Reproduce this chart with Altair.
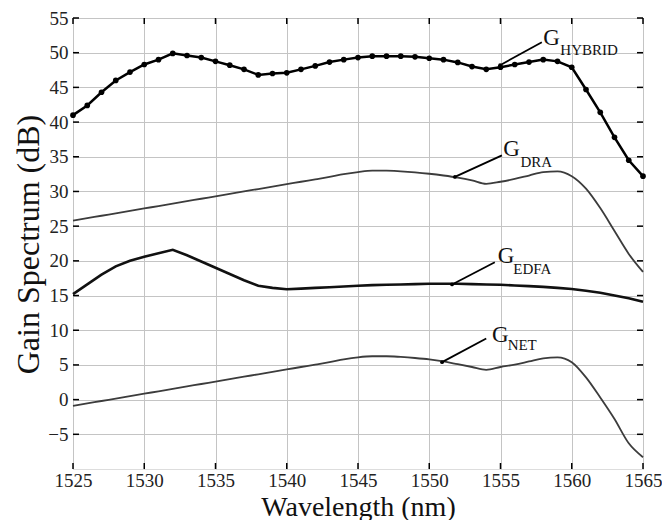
import altair as alt
import pandas as pd

wavelength = list(range(1525, 1566))

g_hybrid = [41.0, 42.4, 44.3, 46.0, 47.2, 48.3, 49.0, 49.9, 49.6, 49.3,
            48.75, 48.2, 47.6, 46.8, 47.0, 47.1, 47.6, 48.1, 48.65, 49.0,
            49.3, 49.5, 49.5, 49.5, 49.4, 49.2, 49.0, 48.6, 48.0, 47.6,
            47.9, 48.3, 48.65, 49.0, 48.75, 47.9, 44.7, 41.4, 37.8, 34.5, 32.2]

g_dra = [25.8, 26.15, 26.5, 26.85, 27.2, 27.55, 27.9, 28.25, 28.6, 28.95,
         29.3, 29.65, 30.0, 30.35, 30.7, 31.05, 31.4, 31.75, 32.1, 32.5,
         32.8, 33.0, 33.0, 32.9, 32.75, 32.55, 32.3, 32.0, 31.6, 31.1,
         31.4, 31.8, 32.3, 32.8, 32.9, 32.2, 30.4, 27.6, 24.3, 21.0, 18.4]

g_edfa = [15.2, 16.6, 18.0, 19.2, 20.0, 20.6, 21.1, 21.6, 20.8, 19.9,
          19.0, 18.1, 17.2, 16.4, 16.1, 15.9, 16.0, 16.1, 16.2, 16.3,
          16.4, 16.5, 16.55, 16.6, 16.65, 16.7, 16.7, 16.7, 16.65, 16.6,
          16.55, 16.45, 16.35, 16.25, 16.1, 15.95, 15.7, 15.4, 15.0, 14.6, 14.1]

g_net = [-0.9, -0.55, -0.2, 0.15, 0.5, 0.85, 1.2, 1.55, 1.9, 2.25,
         2.6, 2.95, 3.3, 3.65, 4.0, 4.35, 4.7, 5.05, 5.4, 5.8,
         6.1, 6.25, 6.25, 6.15, 6.0, 5.8, 5.5, 5.1, 4.7, 4.3,
         4.7, 5.05, 5.5, 5.95, 6.1, 5.4, 3.2, 0.3, -2.8, -6.3, -8.3]

x_ticks = [1525, 1530, 1535, 1540, 1545, 1550, 1555, 1560, 1565]
y_ticks = [-5, 0, 5, 10, 15, 20, 25, 30, 35, 40, 45, 50, 55]

# annotation labels
ann_sub = ["HYBRID", "DRA", "EDFA", "NET"]
ann_g_x = [1558.0, 1555.2, 1554.8, 1554.4]
ann_g_y = [52.1, 36.1, 20.7, 9.3]
ann_s_x = [1559.2, 1556.4, 1555.9, 1555.5]
ann_s_y = [50.4, 34.2, 18.8, 7.9]
arr_x1 = [1554.97, 1551.8, 1551.6, 1550.9]
arr_y1 = [48.2, 32.1, 16.6, 5.4]
arr_x2 = [1557.9, 1555.1, 1554.6, 1554.0]
arr_y2 = [51.5, 35.2, 19.8, 8.8]

W, H = 570, 451
FONT = "Liberation Serif"

xs = alt.Scale(domain=[1525, 1565], nice=False, zero=False)
ys = alt.Scale(domain=[-10, 55], nice=False, zero=False)

df = pd.DataFrame({"wl": wavelength, "hyb": g_hybrid, "dra": g_dra,
                   "edfa": g_edfa, "net": g_net})

x_axis = alt.Axis(values=x_ticks, title="Wavelength (nm)", grid=True, ticks=False,
                  domain=False, labelFontSize=19, titleFontSize=28, labelPadding=2,
                  format="d", labelFont=FONT, titleFont=FONT,
                  labelColor="#222", titleColor="#111", titleFontWeight="normal",
                  gridColor="#c4c4c4", gridWidth=1, labelFlush=False, labelOverlap=False,
                  titleY=46, titleBaseline="alphabetic")
y_axis = alt.Axis(values=y_ticks, title="Gain Spectrum (dB)", grid=True, ticks=False,
                  domain=False, labelFontSize=19, titleFontSize=32, labelPadding=5,
                  labelFont=FONT, titleFont=FONT, labelColor="#222", titleColor="#111",
                  titleFontWeight="normal", gridColor="#c4c4c4", gridWidth=1,
                  titleX=-35, titleY=226, titleBaseline="alphabetic", titleAlign="center",
                  labelFlush=False, labelOverlap=False)


def X(field):
    return alt.X(field, scale=xs, axis=x_axis)


def Y(field):
    return alt.Y(field, scale=ys, axis=y_axis)


base = alt.Chart(df)

hyb_line = base.mark_line(color="black", strokeWidth=2.5).encode(x=X("wl:Q"), y=Y("hyb:Q"))
hyb_pts = base.mark_circle(color="black", size=32, opacity=1).encode(x=X("wl:Q"), y=Y("hyb:Q"))
dra_line = base.mark_line(color="#3c3c3c", strokeWidth=1.8, interpolate="monotone").encode(
    x=X("wl:Q"), y=Y("dra:Q"))
edfa_line = base.mark_line(color="#111", strokeWidth=2.6).encode(
    x=X("wl:Q"), y=Y("edfa:Q"))
net_line = base.mark_line(color="#3c3c3c", strokeWidth=1.8, interpolate="monotone").encode(
    x=X("wl:Q"), y=Y("net:Q"))

ann = pd.DataFrame({"sub": ann_sub, "gx": ann_g_x, "gy": ann_g_y, "sx": ann_s_x,
                    "sy": ann_s_y, "x1": arr_x1, "y1": arr_y1, "x2": arr_x2, "y2": arr_y2,
                    "g": ["G"] * 4})
ann_base = alt.Chart(ann)
arrows = ann_base.mark_rule(color="black", strokeWidth=1.8).encode(
    x=X("x1:Q"), y=Y("y1:Q"), x2="x2:Q", y2="y2:Q")
arrow_tips = ann_base.mark_circle(color="black", size=14, opacity=1).encode(
    x=X("x1:Q"), y=Y("y1:Q"))
g_text = ann_base.mark_text(font=FONT, fontSize=23, align="left", baseline="middle",
                            color="#111").encode(x=X("gx:Q"), y=Y("gy:Q"), text="g:N")
s_text = ann_base.mark_text(font=FONT, fontSize=15, align="left", baseline="middle",
                            color="#111").encode(x=X("sx:Q"), y=Y("sy:Q"), text="sub:N")

# inward tick marks on all four sides
xt = alt.Chart(pd.DataFrame({"t": x_ticks}))
yt = alt.Chart(pd.DataFrame({"t": y_ticks}))
tick_b = xt.mark_rule(color="black", strokeWidth=1.5).encode(
    x=X("t:Q"), y=alt.value(H), y2=alt.value(H - 6))
tick_t = xt.mark_rule(color="black", strokeWidth=1.5).encode(
    x=X("t:Q"), y=alt.value(0), y2=alt.value(6))
tick_l = yt.mark_rule(color="black", strokeWidth=1.5).encode(
    y=Y("t:Q"), x=alt.value(0), x2=alt.value(6))
tick_r = yt.mark_rule(color="black", strokeWidth=1.5).encode(
    y=Y("t:Q"), x=alt.value(W), x2=alt.value(W - 6))

chart = alt.layer(
    hyb_line, dra_line, net_line, edfa_line, hyb_pts,
    arrows, arrow_tips, g_text, s_text,
    tick_b, tick_t, tick_l, tick_r,
).properties(
    width=W, height=H,
    autosize=alt.AutoSizeParams(type="none"),
    padding={"left": 65, "top": 10, "right": 19, "bottom": 51},
).configure_axis(
    labelOverlap=False
).configure_view(
    stroke="black", strokeWidth=2
).configure(background="white")

chart.save("out.html", embed_options={"renderer": "svg", "actions": False})
